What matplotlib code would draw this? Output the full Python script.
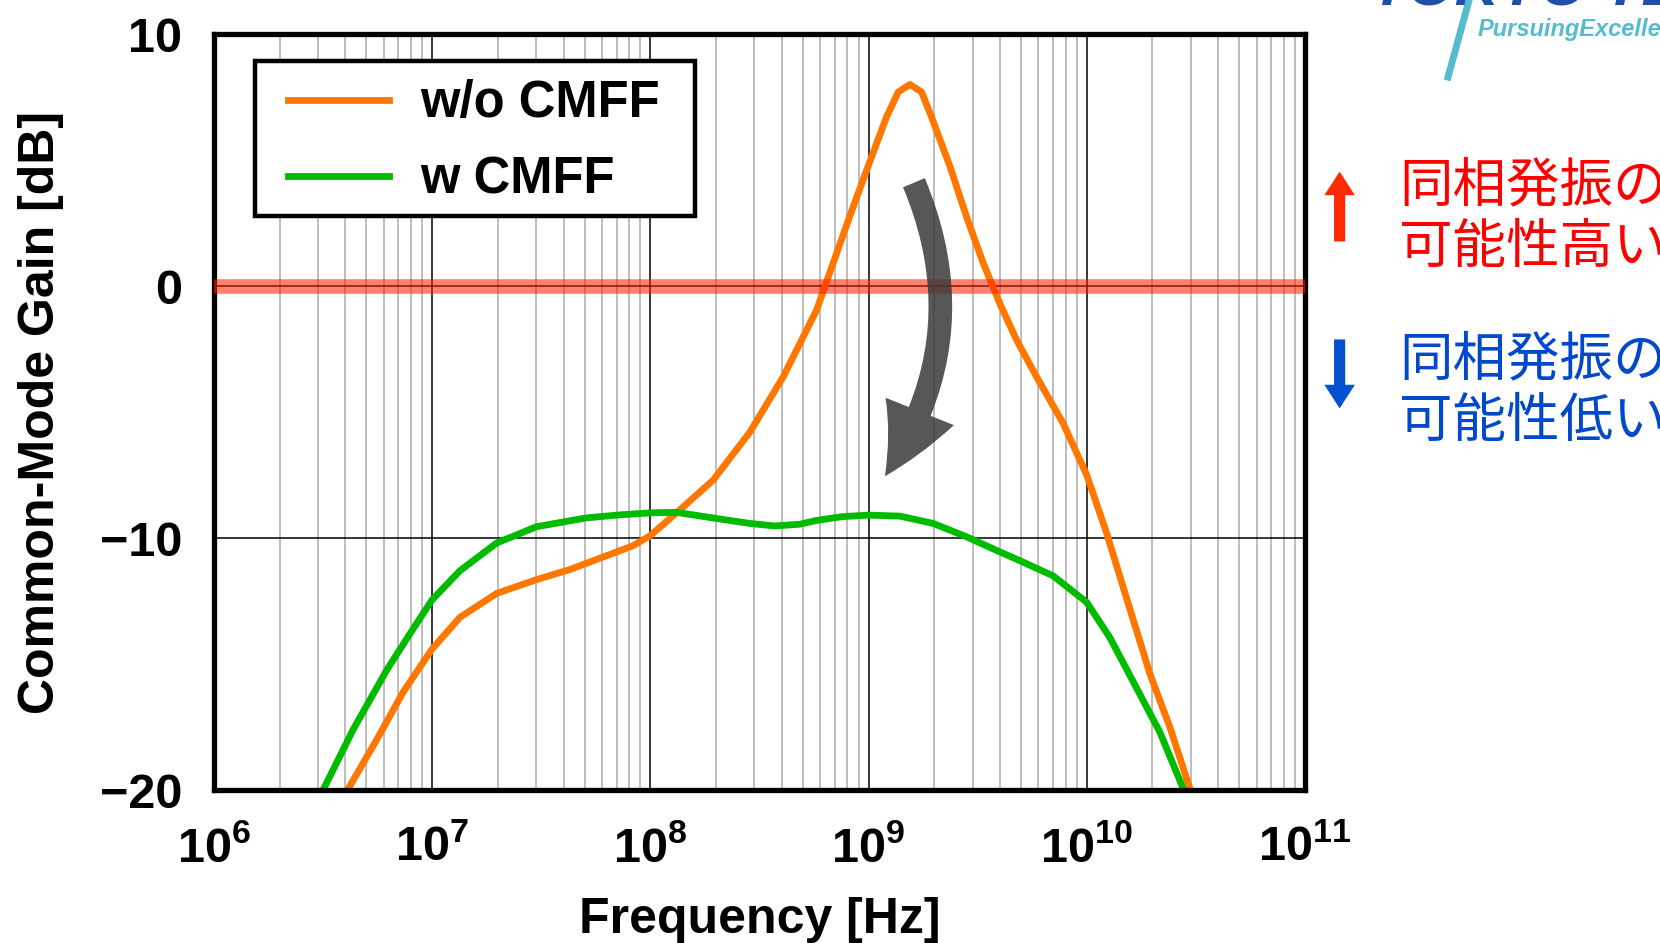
import numpy as np
import matplotlib
matplotlib.use('Agg')
import matplotlib.pyplot as plt
from matplotlib.patches import FancyArrowPatch, Rectangle
from matplotlib.lines import Line2D
from matplotlib.ticker import LogLocator, FixedLocator, NullFormatter

plt.rcParams['font.family'] = ['Liberation Sans', 'Noto Sans CJK JP', 'DejaVu Sans']
plt.rcParams['font.weight'] = 'bold'
plt.rcParams['axes.labelweight'] = 'bold'
plt.rcParams['mathtext.fontset'] = 'custom'
plt.rcParams['mathtext.rm'] = 'Liberation Sans:bold'
plt.rcParams['mathtext.it'] = 'Liberation Sans:bold'
plt.rcParams['mathtext.bf'] = 'Liberation Sans:bold'
plt.rcParams['mathtext.default'] = 'rm'

# ---- data, frequency as log10(Hz) ----
wo_logf = [6.612, 6.746, 6.868, 7.0, 7.127, 7.295, 7.478, 7.631, 7.784, 7.922,
           8.0, 8.12, 8.288, 8.456, 8.609, 8.762, 8.915, 9.0, 9.082, 9.136,
           9.19, 9.243, 9.289, 9.373, 9.449, 9.526, 9.602, 9.679, 9.77, 9.892,
           10.0, 10.091, 10.183, 10.29, 10.381, 10.475]
wo_gain = [-20.0, -18.0, -16.1, -14.4, -13.15, -12.2, -11.65, -11.25, -10.75, -10.3,
           -9.9, -9.0, -7.7, -5.8, -3.6, -0.95, 2.8, 4.8, 6.7, 7.7,
           8.0, 7.7, 6.7, 4.75, 2.75, 0.9, -0.7, -2.15, -3.6, -5.45,
           -7.5, -9.8, -12.4, -15.4, -17.5, -20.0]

w_logf = [6.50, 6.638, 6.791, 6.898, 7.0, 7.127, 7.295, 7.478, 7.707, 7.86,
          8.0, 8.12, 8.30, 8.456, 8.57, 8.686, 8.762, 8.88, 9.0, 9.144,
          9.296, 9.449, 9.602, 9.694, 9.846, 10.0, 10.106, 10.213, 10.335, 10.445]
w_gain = [-20.0, -17.6, -15.25, -13.8, -12.45, -11.3, -10.2, -9.55, -9.2, -9.08,
          -9.0, -8.98, -9.22, -9.42, -9.52, -9.45, -9.3, -9.15, -9.09, -9.13,
          -9.42, -9.95, -10.55, -10.9, -11.5, -12.55, -13.95, -15.7, -17.7, -20.0]

series_labels = ['w/o CMFF', 'w CMFF']
xtick_exp = [6, 7, 8, 9, 10, 11]
yticks = [-20, -10, 0, 10]

ORANGE = '#ff7700'
GREEN = '#00bb00'

fig = plt.figure(figsize=(16.6, 9.43), dpi=100)
ax = fig.add_axes([0.1289, 0.1622, 0.6572, 0.8017])

ax.plot(10.0 ** np.array(wo_logf), wo_gain, color=ORANGE, lw=4.9,
        label=series_labels[0], zorder=2, solid_joinstyle='round')
ax.plot(10.0 ** np.array(w_logf), w_gain, color=GREEN, lw=4.9,
        label=series_labels[1], zorder=2, solid_joinstyle='round')

# 0 dB band
ax.axhline(0, color='#ff1e00', alpha=0.56, lw=10.5, zorder=3)

# axes, ticks, grid
ax.set_xscale('log')
ax.set_xlim(1e6, 1e11)
ax.set_ylim(-20, 10)
ax.xaxis.set_major_locator(FixedLocator([10.0 ** e for e in xtick_exp]))
ax.xaxis.set_minor_locator(LogLocator(base=10, subs=np.arange(2, 10), numticks=50))
ax.xaxis.set_minor_formatter(NullFormatter())
ax.set_xticklabels([r'$10^{%d}$' % e for e in xtick_exp])
ax.yaxis.set_major_locator(FixedLocator(yticks))
ax.set_axisbelow(True)
ax.grid(which='major', color='black', lw=1.1)
ax.grid(which='minor', axis='x', color='#bdbdbd', lw=1.4)
ax.tick_params(which='both', length=0)
ax.tick_params(axis='y', pad=23, labelsize=35)
ax.tick_params(axis='x', pad=26, labelsize=35)
for s in ax.spines.values():
    s.set_linewidth(3.8)

ax.set_xlabel('Frequency [Hz]', fontsize=36, labelpad=18)
ax.set_ylabel('Common-Mode Gain [dB]', fontsize=36, labelpad=26)

# legend (own frame so padding can differ per side)
ax.add_patch(Rectangle((0.0376, 0.759), 0.4033, 0.205, transform=ax.transAxes,
                       facecolor='white', edgecolor='black', lw=3.2, zorder=5))
leg = ax.legend(loc='upper left', bbox_to_anchor=(0.0678, 0.940), borderaxespad=0,
                borderpad=0, frameon=False, fontsize=36.5, handlelength=2.0,
                handletextpad=0.6, labelspacing=0.53)
leg.set_zorder(6)

# curved arrow
arr = FancyArrowPatch((10 ** 9.208, 4.1), (10 ** 9.075, -7.55),
                      connectionstyle='arc3,rad=-0.27',
                      arrowstyle='simple,head_width=53,head_length=53,tail_width=17',
                      mutation_scale=1, color='#3a3a3a', alpha=0.85, lw=0,
                      shrinkA=0, shrinkB=0, zorder=4)
ax.add_patch(arr)

# right-hand notes
fig.add_artist(FancyArrowPatch((0.807, 0.741), (0.807, 0.821), transform=fig.transFigure,
                               arrowstyle='simple,head_width=22,head_length=17,tail_width=8',
                               mutation_scale=1, color='#ff2a00', lw=0))
fig.add_artist(FancyArrowPatch((0.807, 0.643), (0.807, 0.564), transform=fig.transFigure,
                               arrowstyle='simple,head_width=22,head_length=17,tail_width=8',
                               mutation_scale=1, color='#0050d0', lw=0))
fig.text(0.843, 0.770, '同相発振の\n可能性高い', color='#ff0000', fontsize=38.5,
         family=['Noto Sans CJK JP'], weight='normal', va='center', ha='left',
         linespacing=1.15)
fig.text(0.843, 0.586, '同相発振の\n可能性低い', color='#0048cc', fontsize=38.5,
         family=['Noto Sans CJK JP'], weight='normal', va='center', ha='left',
         linespacing=1.15)

# logo remnants at top right
fig.text(0.826, 0.9945, 'TOKYO TECH', color='#1f4fa8', fontsize=44, style='italic',
         weight='bold', va='baseline', ha='left')
fig.text(0.89, 0.962, 'PursuingExcellence', color='#55bcd0', fontsize=17, style='italic',
         weight='bold', va='baseline', ha='left')
fig.add_artist(Line2D([0.8723, 0.885], [0.9183, 1.0], transform=fig.transFigure,
                      color='#55bcd0', lw=5))

fig.savefig('out.png', dpi=100, facecolor='white')
